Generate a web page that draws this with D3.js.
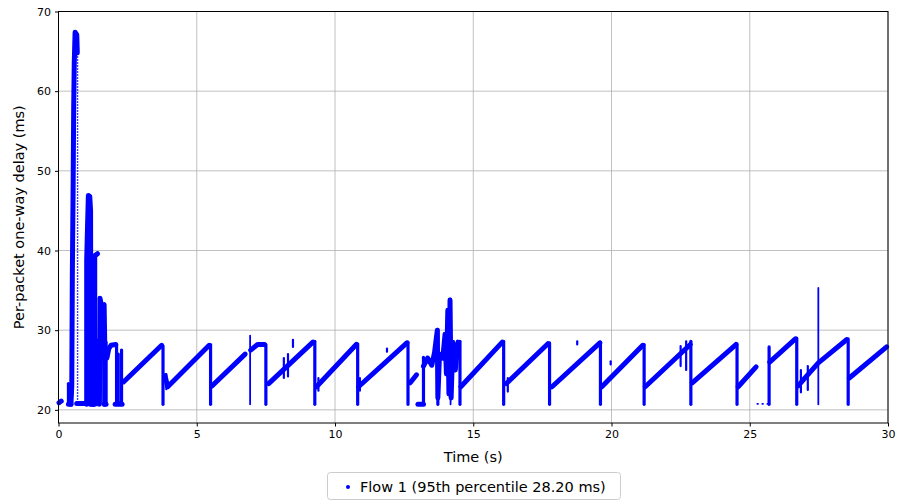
<!DOCTYPE html>
<meta charset="utf-8">
<style>
body { margin: 0; background: #fff; }
svg text { font-family: "DejaVu Sans", sans-serif; fill: #000; }
.grid line { stroke: #b0b0b0; stroke-width: 0.8; }
.axis path, .axis line { stroke: #000; }
</style>
<svg width="898" height="502"></svg>
<script src="https://cdn.jsdelivr.net/npm/d3@7"></script>
<script>
// x ticks / y ticks
var xTicks = [0, 5, 10, 15, 20, 25, 30];
var yTicks = [20, 30, 40, 50, 60, 70];

// thick bands of packets (time s, delay ms)
var bands = [
  [[0.02, 20.9], [0.1, 21.1]],
  [[0.36, 20.7], [0.45, 20.7]],
  [[0.45, 20.7], [0.48, 23], [0.5, 36.7], [0.53, 48.5], [0.55, 58], [0.57, 63.5], [0.6, 67.4], [0.66, 67.1], [0.68, 64.8]],
  [[0.66, 20.8], [0.98, 20.8]],
  [[1.02, 20.7], [1.02, 38.8], [1.05, 43], [1.08, 46.9], [1.13, 46.8], [1.16, 45], [1.17, 20.7]],
  [[1.17, 20.7], [1.25, 20.7]],
  [[1.25, 20.7], [1.25, 39.0], [1.3, 39.3], [1.41, 39.6]],
  [[1.31, 20.7], [1.31, 39.3]],
  [[1.48, 20.7], [1.5, 34.0], [1.56, 32.9], [1.65, 33.2], [1.67, 28.8], [1.67, 20.7]],
  [[1.66, 20.7], [1.72, 20.7]],
  [[1.75, 26.5], [1.82, 27.7], [1.9, 28.1], [2.07, 28.2]],
  [[2.05, 20.7], [2.3, 20.7]],
  [[2.35, 23.5], [3.73, 28.1]],
  [[3.85, 24.3], [3.95, 22.9], [5.45, 28.1]],
  [[5.55, 23.0], [6.75, 27.0]],
  [[6.95, 27.5], [7.2, 28.2], [7.45, 28.2]],
  [[7.6, 23.3], [9.2, 28.5]],
  [[9.33, 22.9], [10.77, 28.2]],
  [[10.85, 22.9], [12.6, 28.4]],
  [[12.72, 23.4], [12.95, 24.4]],
  [[13.0, 20.7], [13.2, 20.7]],
  [[13.2, 25.5], [13.35, 26.5], [13.5, 25.6], [13.6, 27.2], [13.7, 30.0], [13.72, 21.5], [13.78, 27.0], [13.9, 26.5], [13.98, 29.5], [14.03, 24.5], [14.08, 32.5], [14.12, 22.0], [14.16, 33.8], [14.2, 21.5], [14.26, 28.5], [14.35, 25.0], [14.45, 28.5]],
  [[14.55, 22.9], [16.05, 28.5]],
  [[16.2, 23.3], [17.7, 28.3]],
  [[17.85, 22.9], [19.58, 28.4]],
  [[19.65, 22.9], [21.13, 28.1]],
  [[21.22, 22.9], [22.85, 28.2]],
  [[22.92, 23.4], [24.5, 28.2]],
  [[24.58, 22.9], [25.23, 25.4]],
  [[25.72, 26.0], [26.65, 28.9]],
  [[26.75, 23.0], [27.0, 24.0], [27.48, 25.9], [28.5, 28.8]],
  [[28.6, 24.0], [29.95, 27.9]]
];

// queue drains: vertical runs from the floor up to the top (time, top)
var drops = [
  [0.36, 23.3], [1.38, 28.8], [1.72, 28.5], [2.1, 28.2], [2.16, 27.0], [2.28, 27.5],
  [3.78, 28.0], [5.5, 28.2], [7.5, 28.2], [9.27, 28.6], [10.82, 28.3],
  [12.64, 28.5], [13.2, 26.6], [13.72, 30.1], [14.52, 28.6], [16.1, 28.6],
  [17.76, 28.4], [19.6, 28.5], [21.18, 28.2], [22.87, 28.6], [24.54, 28.3],
  [25.7, 27.9], [26.7, 29.0], [28.56, 28.9]
];
// narrow single spikes (time, top)
var spikes = [[6.93, 29.3], [14.18, 34.0], [27.48, 35.3]];

// sparse descending packets (time, low, high)
var sparse = [[0.69, 20.9, 64.8], [1.19, 21.0, 44.0]];

// sparse floor packets (time from, time to, delay)
var floorDots = [[25.25, 25.68, 20.75]];

// short noise marks on the ramps (time, low, high)
var noise = [
  [8.15, 24.0, 26.5], [8.3, 24.2, 27.0], [8.48, 27.9, 28.8], [11.88, 27.3, 27.7],
  [16.25, 22.3, 24.0], [18.76, 28.2, 28.6], [19.97, 25.7, 26.1],
  [22.5, 25.5, 28.0], [22.7, 25.0, 28.6], [26.85, 22.2, 25.0], [27.1, 22.5, 25.5],
  [3.9, 22.6, 24.5], [9.4, 22.4, 24.0], [10.9, 22.4, 24.0]
];

var floor = 20.7;
var blue = "#0000ff";

var svg = d3.select("svg");
var x = d3.scaleLinear().domain([0, 30]).range([58.5, 888]);
var y = d3.scaleLinear().domain([18.35, 70]).range([423, 11.5]);

// grid
var grid = svg.append("g").attr("class", "grid");
grid.selectAll(".gx").data(xTicks).enter().append("line")
    .attr("x1", d => x(d)).attr("x2", d => x(d))
    .attr("y1", y(70)).attr("y2", y(18.35));
grid.selectAll(".gy").data(yTicks).enter().append("line")
    .attr("x1", x(0)).attr("x2", x(30))
    .attr("y1", d => y(d)).attr("y2", d => y(d));

var plot = svg.append("g");
var line = d3.line().x(d => x(d[0])).y(d => y(d[1]));

plot.selectAll(".band").data(bands).enter().append("path")
    .attr("d", line)
    .attr("fill", "none").attr("stroke", blue)
    .attr("stroke-width", 5).attr("stroke-linejoin", "round").attr("stroke-linecap", "round");

plot.selectAll(".drop").data(drops).enter().append("line")
    .attr("x1", d => x(d[0])).attr("x2", d => x(d[0]))
    .attr("y1", y(floor)).attr("y2", d => y(d[1]))
    .attr("stroke", blue).attr("stroke-width", 3.2).attr("stroke-linecap", "round");

plot.selectAll(".spike").data(spikes).enter().append("line")
    .attr("x1", d => x(d[0])).attr("x2", d => x(d[0]))
    .attr("y1", y(floor)).attr("y2", d => y(d[1]))
    .attr("stroke", blue).attr("stroke-width", 1.8).attr("stroke-linecap", "round");

plot.selectAll(".sparse").data(sparse).enter().append("line")
    .attr("x1", d => x(d[0])).attr("x2", d => x(d[0]))
    .attr("y1", d => y(d[1])).attr("y2", d => y(d[2]))
    .attr("stroke", blue).attr("stroke-width", 1.4).attr("stroke-dasharray", "1.4,1.6");

plot.selectAll(".floor").data(floorDots).enter().append("line")
    .attr("x1", d => x(d[0])).attr("x2", d => x(d[1]))
    .attr("y1", d => y(d[2])).attr("y2", d => y(d[2]))
    .attr("stroke", blue).attr("stroke-width", 1.8).attr("stroke-dasharray", "2,3");

plot.selectAll(".noise").data(noise).enter().append("line")
    .attr("x1", d => x(d[0])).attr("x2", d => x(d[0]))
    .attr("y1", d => y(d[1])).attr("y2", d => y(d[2]))
    .attr("stroke", blue).attr("stroke-width", 2.2).attr("stroke-linecap", "round");

// frame
svg.append("rect")
    .attr("x", x(0)).attr("y", y(70))
    .attr("width", x(30) - x(0)).attr("height", y(18.35) - y(70))
    .attr("fill", "none").attr("stroke", "#000").attr("stroke-width", 1);

// axes
var xAxis = svg.append("g").attr("class", "axis")
    .attr("transform", "translate(0," + y(18.35) + ")")
    .call(d3.axisBottom(x).tickValues(xTicks).tickSize(3.5).tickPadding(4).tickFormat(d3.format("d")));
var yAxis = svg.append("g").attr("class", "axis")
    .attr("transform", "translate(" + x(0) + ",0)")
    .call(d3.axisLeft(y).tickValues(yTicks).tickSize(3.5).tickPadding(4).tickFormat(d3.format("d")));
svg.selectAll(".axis .domain").remove();
svg.selectAll(".axis text").style("font-size", "11px").style("font-family", "DejaVu Sans");

svg.append("text")
    .attr("x", (x(0) + x(30)) / 2).attr("y", 462)
    .attr("text-anchor", "middle").style("font-size", "14.5px")
    .text("Time (s)");
svg.append("text")
    .attr("transform", "translate(24," + (y(70) + y(18.35)) / 2 + ") rotate(-90)")
    .attr("text-anchor", "middle").style("font-size", "14.5px")
    .text("Per-packet one-way delay (ms)");

// legend
var legend = svg.append("g");
legend.append("rect")
    .attr("x", 327.5).attr("y", 472.5).attr("width", 293).attr("height", 27).attr("rx", 3)
    .attr("fill", "#fff").attr("stroke", "#cccccc");
legend.append("circle").attr("cx", 348).attr("cy", 487).attr("r", 2).attr("fill", blue);
legend.append("text").attr("x", 360).attr("y", 492).style("font-size", "14.5px")
    .text("Flow 1 (95th percentile 28.20 ms)");
</script>
